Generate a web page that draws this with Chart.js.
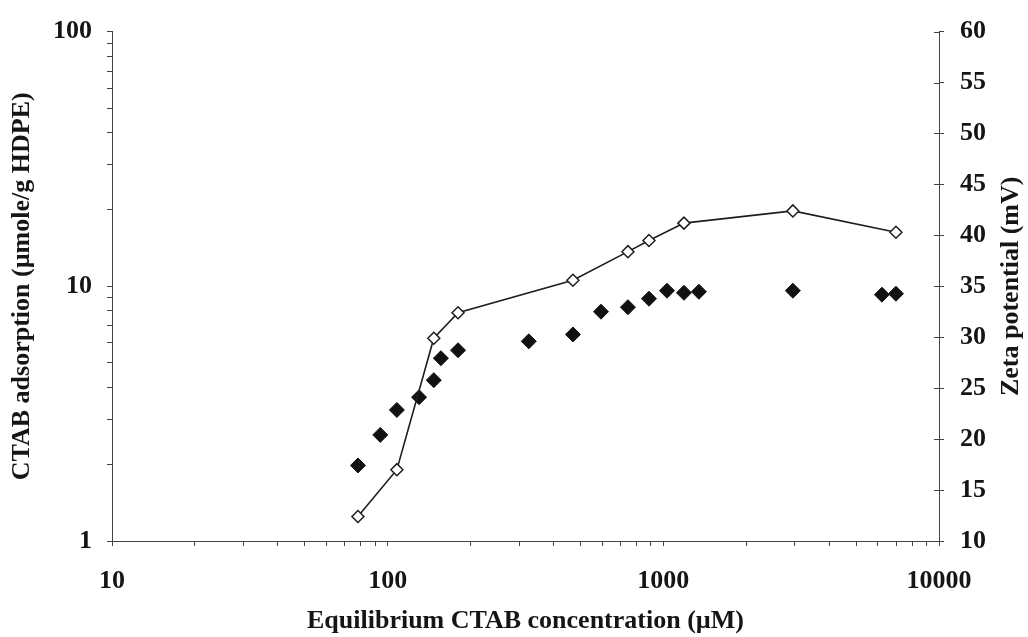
<!DOCTYPE html>
<html lang="en">
	<head>
		<meta charset="utf-8" />
		<title>CTAB adsorption and zeta potential</title>
		<script src="https://cdn.jsdelivr.net/npm/chart.js@4"></script>
		<style>
			html, body { margin: 0; padding: 0; background: #fff; }
			.graphic { width: 1028px; height: 637px; }
		</style>
	</head>
	<body>
		<div class="graphic">
			<canvas id="myChart" width="1028" height="637"></canvas>
		</div>
		<script>
			/* data */
			const adsConc = [78, 94, 108, 130, 147, 156, 180, 325, 470, 594, 744, 887, 1031, 1188, 1346, 2951, 6208, 6979];
			const adsValues = [1.98, 2.61, 3.27, 3.67, 4.28, 5.22, 5.61, 6.08, 6.47, 7.95, 8.28, 8.94, 9.61, 9.43, 9.52, 9.61, 9.27, 9.35];
			const zetaConc = [78, 108, 147, 180, 470, 744, 887, 1188, 2951, 6979];
			const zetaValues = [12.4, 17.0, 29.9, 32.4, 35.6, 38.4, 39.5, 41.2, 42.4, 40.3];

			const xTickLabels = ['10', '100', '1000', '10000'];
			const yTickLabels = ['1', '10', '100'];
			const y1Ticks = [10, 15, 20, 25, 30, 35, 40, 45, 50, 55, 60];

			const xTitle = 'Equilibrium CTAB concentration (\u00b5M)';
			const yTitle = 'CTAB adsorption (\u00b5mole/g HDPE)';
			const y1Title = 'Zeta potential (mV)';

			const axisColor = '#444444';
			const textColor = '#151515';
			const font = { family: '"Liberation Serif", "Times New Roman", serif', size: 26, weight: 'bold' };

			// minor ticks 1..9 in every decade
			function logTicks(scale) {
				var ticks = [];
				for (var e = Math.floor(Math.log10(scale.min)); e <= Math.ceil(Math.log10(scale.max)); e++) {
					for (var k = 1; k <= 9; k++) {
						var v = Number((k * Math.pow(10, e)).toPrecision(6));
						if (v >= scale.min && v <= scale.max) ticks.push({ value: v });
					}
				}
				scale.ticks = ticks;
			}
			function labelFrom(list) {
				return function (value) {
					var s = String(value);
					return list.indexOf(s) >= 0 ? s : '';
				};
			}

			// right axis: ticks crossing the line and a title read bottom-up
			const rightAxis = {
				id: 'rightAxis',
				afterDraw(chart) {
					const s = chart.scales.y1;
					const ctx = chart.ctx;
					ctx.save();
					ctx.strokeStyle = axisColor;
					ctx.lineWidth = 1;
					s.ticks.forEach(function (t) {
						var py = Math.round(s.getPixelForValue(t.value)) + 0.5;
						ctx.beginPath();
						ctx.moveTo(s.left - 5, py);
						ctx.lineTo(s.left, py);
						ctx.stroke();
					});
					ctx.translate(chart.width - 17, (s.top + s.bottom) / 2);
					ctx.rotate(-Math.PI / 2);
					ctx.font = 'bold 26px "Liberation Serif", "Times New Roman", serif';
					ctx.fillStyle = textColor;
					ctx.textAlign = 'center';
					ctx.textBaseline = 'middle';
					ctx.fillText(y1Title, 0, 0);
					ctx.restore();
				}
			};

			const data = {
				datasets: [
					{
						label: y1Title,
						data: zetaConc.map(function (x, i) { return { x: x, y: zetaValues[i] }; }),
						yAxisID: 'y1',
						showLine: true,
						borderColor: '#1e1e1e',
						borderWidth: 1.6,
						pointStyle: 'rectRot',
						pointRadius: 6,
						pointBackgroundColor: '#ffffff',
						pointBorderColor: '#1e1e1e',
						pointBorderWidth: 1.5
					},
					{
						label: yTitle,
						data: adsConc.map(function (x, i) { return { x: x, y: adsValues[i] }; }),
						yAxisID: 'y',
						showLine: false,
						pointStyle: 'rectRot',
						pointRadius: 7.5,
						pointBackgroundColor: '#111111',
						pointBorderColor: '#111111',
						pointBorderWidth: 1
					}
				]
			};

			const config = {
				type: 'scatter',
				data: data,
				plugins: [rightAxis],
				options: {
					responsive: false,
					animation: false,
					layout: { padding: { top: 28, left: 0, right: 0, bottom: 0 } },
					plugins: { legend: { display: false }, tooltip: { enabled: false } },
					scales: {
						x: {
							type: 'logarithmic',
							min: 10,
							max: 10000,
							afterBuildTicks: logTicks,
							afterFit: function (s) { s.height = 96; },
							border: { display: true, color: axisColor, width: 1 },
							grid: { drawOnChartArea: false, tickLength: 5, color: axisColor },
							ticks: { autoSkip: false, maxRotation: 0, padding: 20, color: textColor, font: font, callback: labelFrom(xTickLabels) },
							title: { display: true, text: xTitle, color: textColor, font: font, padding: { top: 0, bottom: 0 } }
						},
						y: {
							type: 'logarithmic',
							position: 'left',
							min: 1,
							max: 100,
							afterBuildTicks: logTicks,
							afterFit: function (s) { s.width = 112; },
							border: { display: true, color: axisColor, width: 1 },
							grid: { drawOnChartArea: false, tickLength: 5, color: axisColor },
							ticks: { autoSkip: false, padding: 15, color: textColor, font: font, callback: labelFrom(yTickLabels) },
							title: { display: true, text: yTitle, color: textColor, font: font, padding: { top: 7, bottom: 0 } }
						},
						y1: {
							type: 'linear',
							position: 'right',
							min: y1Ticks[0],
							max: y1Ticks[y1Ticks.length - 1],
							afterBuildTicks: function (s) { s.ticks = y1Ticks.map(function (v) { return { value: v }; }); },
							afterFit: function (s) { s.width = 89; },
							border: { display: true, color: axisColor, width: 1 },
							grid: { drawOnChartArea: false, tickLength: 5, color: axisColor },
							ticks: { autoSkip: false, padding: 16, color: textColor, font: font },
							title: { display: false }
						}
					}
				}
			};

			var chart = new Chart(document.getElementById('myChart'), config);
		</script>
	</body>
</html>
